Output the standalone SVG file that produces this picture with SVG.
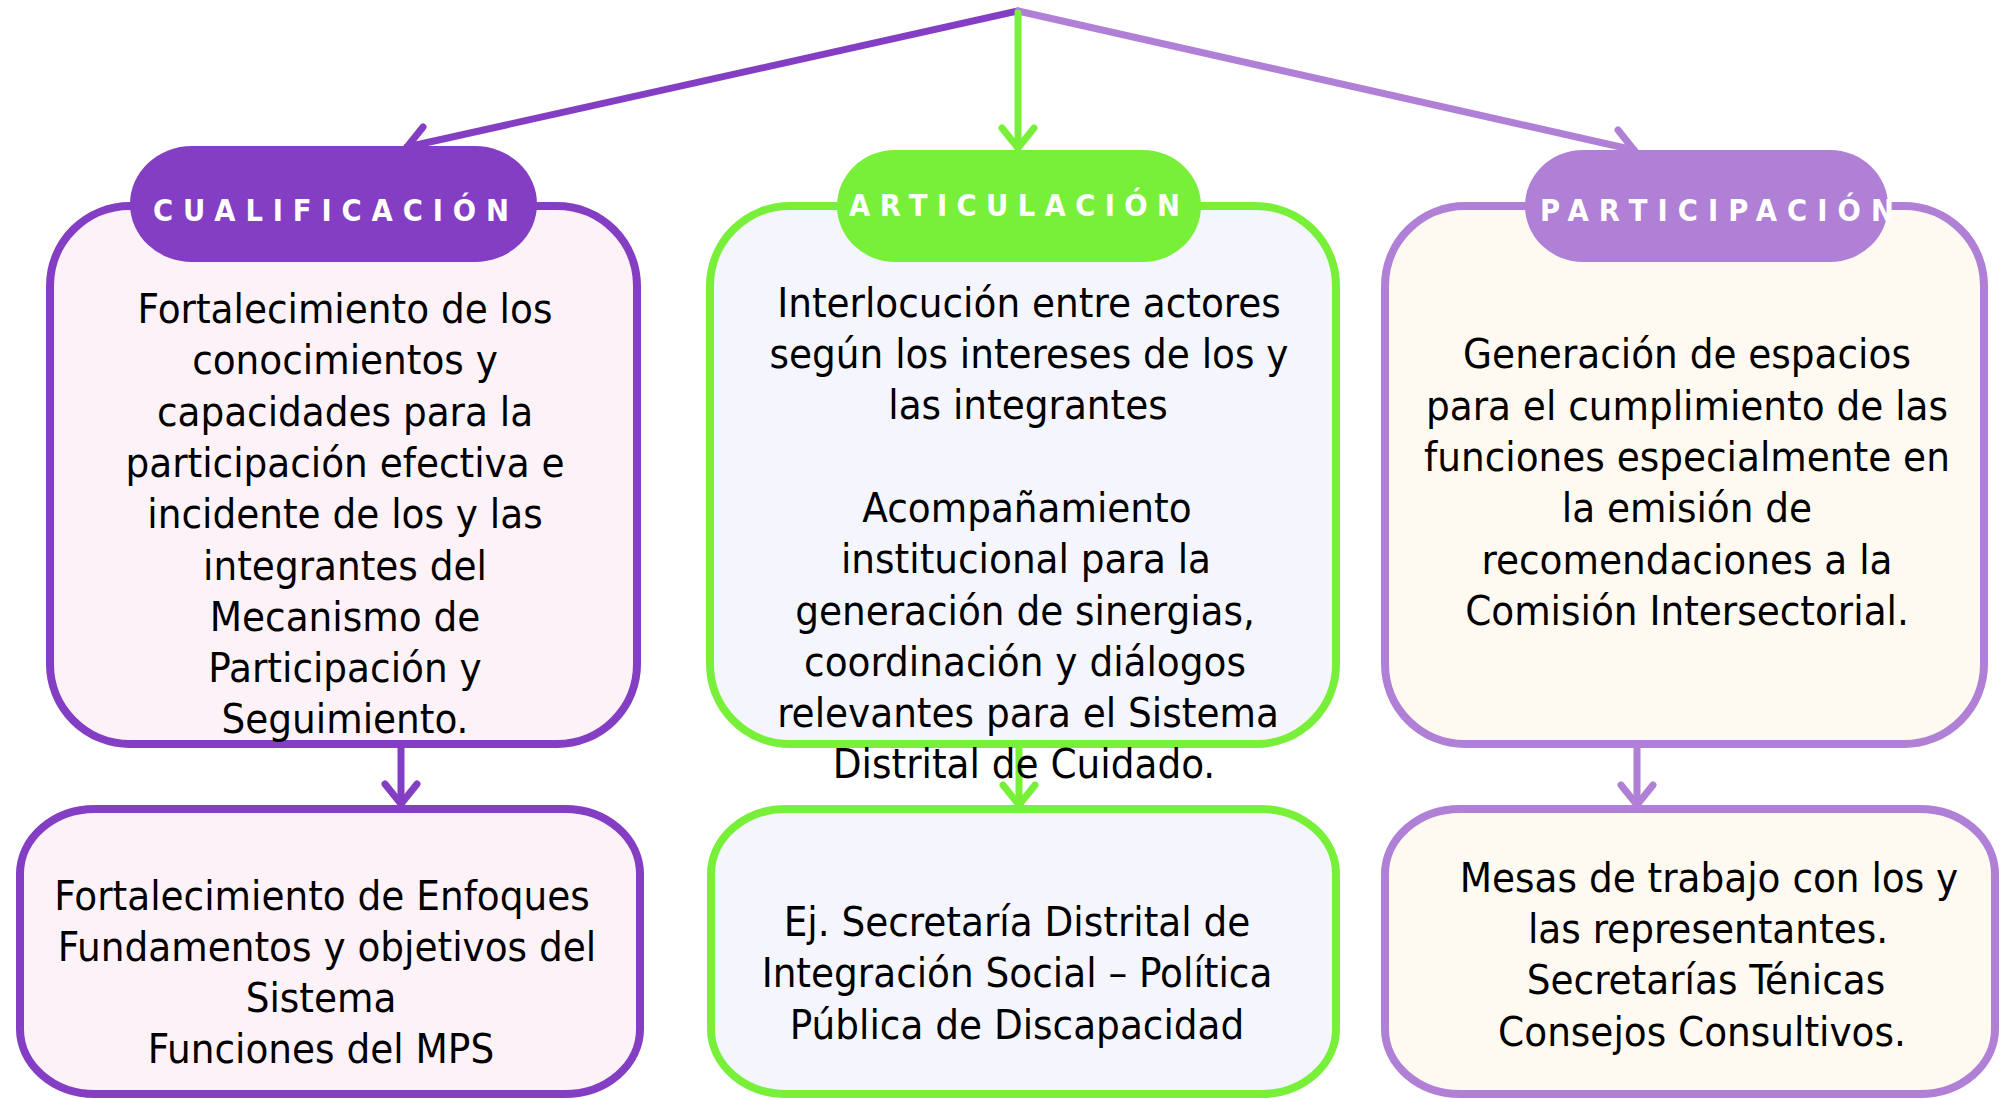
<svg xmlns="http://www.w3.org/2000/svg" width="2001" height="1099" viewBox="0 0 2001 1099">
<defs>
<style>
.body{font-family:"DejaVu Sans Condensed","DejaVu Sans",sans-serif;font-stretch:condensed;font-size:41.6px;fill:#000;text-anchor:middle}
.title{font-family:"DejaVu Sans Condensed","DejaVu Sans",sans-serif;font-stretch:condensed;font-weight:bold;font-size:30.5px;fill:#fff}
.dp{stroke:#843EC4}
.gr{stroke:#78F03A}
.lp{stroke:#B07FD6}
.box{stroke-width:8}
.conn{fill:none;stroke-width:7;stroke-linecap:round}
</style>
<marker id="ahDP" markerUnits="userSpaceOnUse" viewBox="-30 -25 40 50" markerWidth="40" markerHeight="50" refX="0" refY="0" orient="auto"><path d="M-20,-16 L0,0 L-20,16" fill="none" stroke="#843EC4" stroke-width="7" stroke-linecap="round" stroke-linejoin="miter"/></marker>
<marker id="ahGR" markerUnits="userSpaceOnUse" viewBox="-30 -25 40 50" markerWidth="40" markerHeight="50" refX="0" refY="0" orient="auto"><path d="M-20,-16 L0,0 L-20,16" fill="none" stroke="#78F03A" stroke-width="7" stroke-linecap="round" stroke-linejoin="miter"/></marker>
<marker id="ahLP" markerUnits="userSpaceOnUse" viewBox="-30 -25 40 50" markerWidth="40" markerHeight="50" refX="0" refY="0" orient="auto"><path d="M-20,-16 L0,0 L-20,16" fill="none" stroke="#B07FD6" stroke-width="7" stroke-linecap="round" stroke-linejoin="miter"/></marker>
</defs>
<rect width="2001" height="1099" fill="#fff"/>
<g id="connectors">
<line class="conn dp" x1="1018" y1="11" x2="407" y2="147" marker-end="url(#ahDP)"/>
<line class="conn lp" x1="1018" y1="11" x2="1634" y2="150" marker-end="url(#ahLP)"/>
<line class="conn gr" x1="1018" y1="13" x2="1018" y2="148" marker-end="url(#ahGR)"/>
<line class="conn dp" x1="401" y1="748" x2="401" y2="804" marker-end="url(#ahDP)"/>
<line class="conn gr" x1="1019" y1="748" x2="1019" y2="805" marker-end="url(#ahGR)"/>
<line class="conn lp" x1="1637" y1="748" x2="1637" y2="805" marker-end="url(#ahLP)"/>
</g>
<g id="box-cualificacion">
<rect class="box dp" x="50" y="206" width="587" height="538" rx="80" ry="80" fill="#FDF2F8"/>
<rect x="130" y="146" width="407" height="116" rx="62" ry="58" fill="#843EC4"/>
<text class="title" x="153" y="221" textLength="356" lengthAdjust="spacing">CUALIFICACIÓN</text>
<text class="body"><tspan x="345" y="323">Fortalecimiento de los</tspan><tspan x="345" y="374.3">conocimientos y</tspan><tspan x="345" y="425.6">capacidades para la</tspan><tspan x="345" y="476.9">participación efectiva e</tspan><tspan x="345" y="528.2">incidente de los y las</tspan><tspan x="345" y="579.5">integrantes del</tspan><tspan x="345" y="630.8">Mecanismo de</tspan><tspan x="345" y="682.1">Participación y</tspan><tspan x="345" y="733.4">Seguimiento.</tspan></text>
</g>
<g id="box-articulacion">
<rect class="box gr" x="710" y="206" width="626" height="538" rx="80" ry="80" fill="#F5F6FD"/>
<rect x="837" y="150" width="364" height="112" rx="58" ry="56" fill="#78F03A"/>
<text class="title" x="849" y="216" textLength="331" lengthAdjust="spacing">ARTICULACIÓN</text>
<text class="body"><tspan x="1029" y="316.7">Interlocución entre actores</tspan><tspan x="1029" y="368">según los intereses de los y</tspan><tspan x="1028" y="419.3">las integrantes</tspan><tspan x="1027" y="521.9">Acompañamiento</tspan><tspan x="1026" y="573.2">institucional para la</tspan><tspan x="1025" y="624.5">generación de sinergias,</tspan><tspan x="1025" y="675.8">coordinación y diálogos</tspan><tspan x="1028" y="727.1">relevantes para el Sistema</tspan><tspan x="1024" y="778.4">Distrital de Cuidado.</tspan></text>
</g>
<g id="box-participacion">
<rect class="box lp" x="1385" y="206" width="599" height="538" rx="80" ry="80" fill="#FEF9F1"/>
<rect x="1525" y="150" width="363" height="112" rx="58" ry="56" fill="#B07FD6"/>
<text class="title" x="1540" y="221" textLength="354" lengthAdjust="spacing">PARTICIPACIÓN</text>
<text class="body"><tspan x="1687" y="368.3">Generación de espacios</tspan><tspan x="1687" y="419.6">para el cumplimiento de las</tspan><tspan x="1687" y="470.9">funciones especialmente en</tspan><tspan x="1687" y="522.2">la emisión de</tspan><tspan x="1687" y="573.5">recomendaciones a la</tspan><tspan x="1687" y="624.8">Comisión Intersectorial.</tspan></text>
</g>
<g id="box-cualificacion-ejemplos">
<rect class="box dp" x="20" y="809" width="620" height="285" rx="75" ry="65" fill="#FDF2F8"/>
<text class="body"><tspan x="322" y="909.5">Fortalecimiento de Enfoques</tspan><tspan x="327" y="960.8">Fundamentos y objetivos del</tspan><tspan x="321" y="1012.1">Sistema</tspan><tspan x="321" y="1063.4">Funciones del MPS</tspan></text>
</g>
<g id="box-articulacion-ejemplos">
<rect class="box gr" x="711" y="809" width="625" height="285" rx="75" ry="65" fill="#F5F6FD"/>
<text class="body"><tspan x="1017" y="936">Ej. Secretaría Distrital de</tspan><tspan x="1017" y="987.3">Integración Social – Política</tspan><tspan x="1017" y="1038.6">Pública de Discapacidad</tspan></text>
</g>
<g id="box-participacion-ejemplos">
<rect class="box lp" x="1385" y="809" width="610" height="285" rx="75" ry="65" fill="#FEF9F1"/>
<text class="body"><tspan x="1709" y="891.7">Mesas de trabajo con los y</tspan><tspan x="1708" y="943">las representantes.</tspan><tspan x="1706" y="994.3">Secretarías Ténicas</tspan><tspan x="1702" y="1045.6">Consejos Consultivos.</tspan></text>
</g>
</svg>
